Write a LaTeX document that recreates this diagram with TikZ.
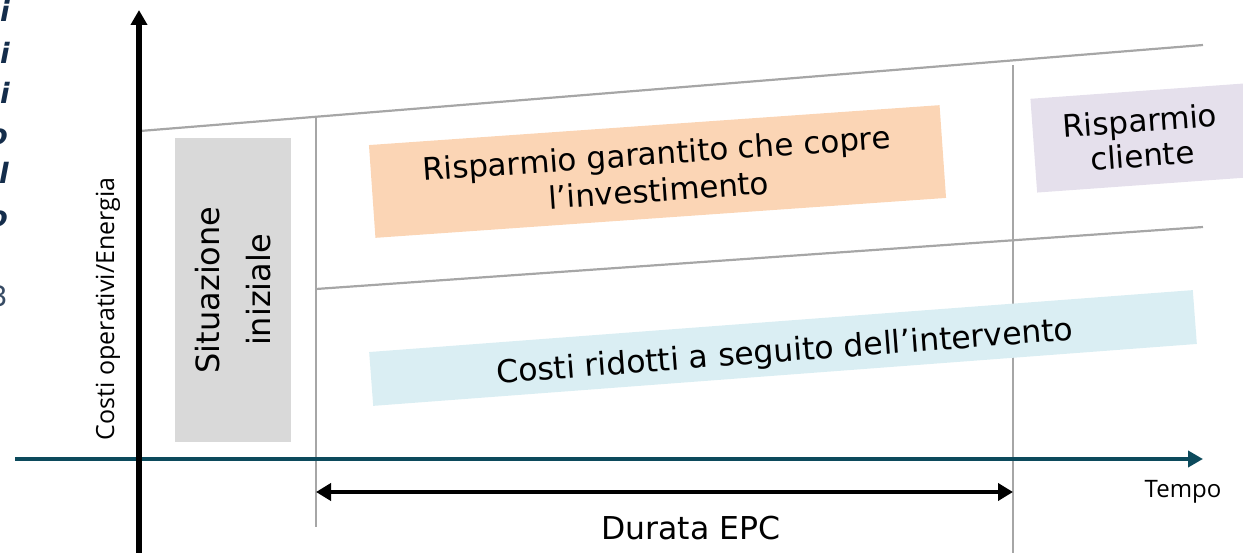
\documentclass[tikz,border=0pt]{standalone}
\usepackage{fontspec}
\setmainfont{DejaVu Sans}
\newfontfamily\osans{Open Sans}
\usetikzlibrary{arrows.meta}
\definecolor{gline}{HTML}{A6A6A6}
\definecolor{teal}{RGB}{12,74,92}
\definecolor{gbox}{HTML}{D9D9D9}
\definecolor{obox}{HTML}{FBD5B5}
\definecolor{bbox}{HTML}{DAEEF3}
\definecolor{pbox}{HTML}{E5E0EC}
\definecolor{navy}{RGB}{20,45,75}
\definecolor{navyg}{RGB}{55,75,100}
\tikzset{
  gridline/.style={draw=gline, line width=2.2pt},
  band/.style={inner sep=0pt, align=center, text=black, font=\fontsize{31}{37}\selectfont},
  frag/.style={inner sep=0pt, anchor=base east, text=navy, font=\fontsize{28}{30}\selectfont\bfseries\itshape},
}
\begin{document}
\begin{tikzpicture}[x=1pt,y=-1pt]
\useasboundingbox (0,0) rectangle (1243,553);
\clip (0,0) rectangle (1243,553);

% clipped text fragments on the left edge
\node[frag] (f1) at (10,22) {i};
\node[frag] (f2) at (10,64) {i};
\node[frag] (f3) at (10,104) {i};
\node[frag] (f4) at (8,145) {o};
\node[frag] (f5) at (9,184) {l};
\node[frag] (f6) at (8,227) {o};
\node[frag, text=navyg, font=\fontsize{28}{30}\selectfont] (f7) at (8,307) {3};

% coordinates
\coordinate (tl1) at (140,131); \coordinate (tl2) at (1203,45);
\coordinate (ml1) at (316,289); \coordinate (ml2) at (1203,227);
\coordinate (v1t) at (316,118); \coordinate (v1b) at (316,527);
\coordinate (v2t) at (1013,65); \coordinate (v2b) at (1013,560);
\coordinate (yb) at (139,560); \coordinate (yt) at (139,10);
\coordinate (xl) at (15,459); \coordinate (xr) at (1203,459);
\coordinate (da1) at (316,492); \coordinate (da2) at (1013,492);

% grey guide lines
\draw[gridline] (tl1) -- (tl2);
\draw[gridline] (ml1) -- (ml2);
\draw[gridline] (v1t) -- (v1b);
\draw[gridline] (v2t) -- (v2b);

% boxes
\node[band, fill=gbox, rotate=90, minimum width=304pt, minimum height=116pt, font=\fontsize{32}{51}\selectfont] (sit) at (233,290) {Situazione\\iniziale};
\node[band, fill=obox, rotate=4, minimum width=572pt, minimum height=93pt] (ris) at (657.5,171.5) {Risparmio garantito che copre\\l’investimento};
\node[band, fill=bbox, rotate=4.3, minimum width=826pt, minimum height=54pt] (cos) at (783,348) {};
\node[band, rotate=4.3, font=\fontsize{31.5}{37}\selectfont] (cost) at (785,353) {Costi ridotti a seguito dell’intervento};
\node[band, fill=pbox, rotate=4.1, minimum width=215pt, minimum height=94pt, font=\fontsize{31}{35}\selectfont] (cli) at (1141,138) {Risparmio\\cliente};

% axes
\draw[teal, line width=4pt, -{Triangle[length=15pt,width=16pt]}] (xl) -- (xr);
\draw[black, line width=5.5pt, -{Triangle[length=15pt,width=16pt]}] (yb) -- (yt);

% duration arrow
\draw[black, line width=4.5pt, {Triangle[length=15pt,width=17pt]}-{Triangle[length=15pt,width=17pt]}] (da1) -- (da2);

% labels
\node[inner sep=0pt, font=\fontsize{31.5}{35}\selectfont] (dur) at (691,528) {Durata EPC};
\node[inner sep=0pt, font=\osans\fontsize{24}{28}\selectfont] (tem) at (1183,492) {Tempo};
\node[inner sep=0pt, rotate=90, font=\osans\fontsize{25}{28}\selectfont] (yax) at (108,309) {Costi operativi/Energia};
\end{tikzpicture}
\end{document}
